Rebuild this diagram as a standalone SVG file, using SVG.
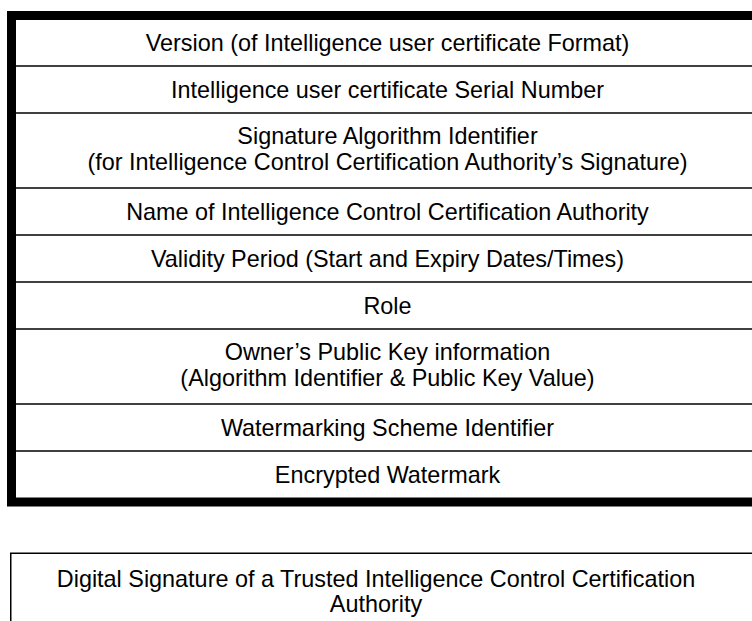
<svg xmlns="http://www.w3.org/2000/svg" width="752" height="621" viewBox="0 0 752 621">
<style>
.t{font-family:"Liberation Sans",Arial,sans-serif;font-size:23.4px;fill:#000;text-anchor:middle}
.sep{stroke:#000;stroke-width:1.5;fill:none}
</style>
<rect width="752" height="621" fill="#fff"/>
<g id="certificate">
<rect x="11.5" y="15.5" width="752" height="486.5" fill="#fff" stroke="#000" stroke-width="9"/>
<line class="sep" x1="16" y1="66" x2="752" y2="66"/>
<line class="sep" x1="16" y1="113" x2="752" y2="113"/>
<line class="sep" x1="16" y1="188" x2="752" y2="188"/>
<line class="sep" x1="16" y1="235" x2="752" y2="235"/>
<line class="sep" x1="16" y1="282" x2="752" y2="282"/>
<line class="sep" x1="16" y1="329" x2="752" y2="329"/>
<line class="sep" x1="16" y1="404" x2="752" y2="404"/>
<line class="sep" x1="16" y1="451" x2="752" y2="451"/>
</g>
<g id="row-version"><text class="t" x="387.5" y="51">Version (of Intelligence user certificate Format)</text></g>
<g id="row-serial"><text class="t" x="387.5" y="98">Intelligence user certificate Serial Number</text></g>
<g id="row-sigalg"><text class="t" x="387.5" y="144">Signature Algorithm Identifier</text><text class="t" x="387.5" y="170">(for Intelligence Control Certification Authority’s Signature)</text></g>
<g id="row-name"><text class="t" x="387.5" y="220">Name of Intelligence Control Certification Authority</text></g>
<g id="row-validity"><text class="t" x="387.5" y="267">Validity Period (Start and Expiry Dates/Times)</text></g>
<g id="row-role"><text class="t" x="387.5" y="314">Role</text></g>
<g id="row-pubkey"><text class="t" x="387.5" y="360">Owner’s Public Key information</text><text class="t" x="387.5" y="386">(Algorithm Identifier &amp; Public Key Value)</text></g>
<g id="row-scheme"><text class="t" x="387.5" y="436">Watermarking Scheme Identifier</text></g>
<g id="row-watermark"><text class="t" x="387.5" y="483">Encrypted Watermark</text></g>
<g id="signature">
<rect x="10.75" y="553.25" width="760" height="120" fill="#fff" stroke="#000" stroke-width="1.5"/>
<text class="t" x="376" y="587">Digital Signature of a Trusted Intelligence Control Certification</text>
<text class="t" x="376" y="612">Authority</text>
</g>
</svg>
